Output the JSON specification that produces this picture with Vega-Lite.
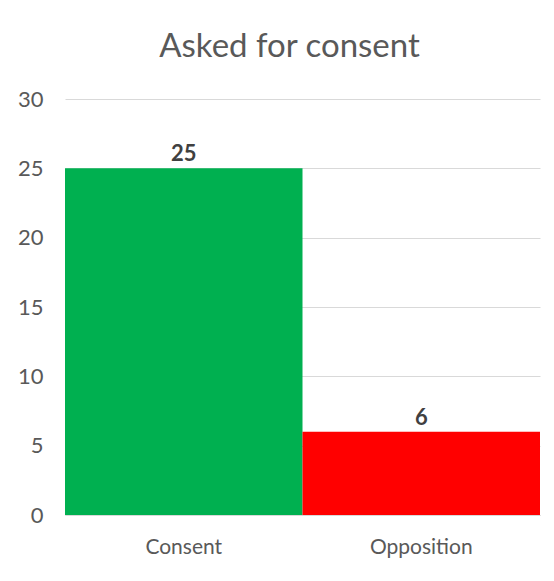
{
  "$schema": "https://vega.github.io/schema/vega-lite/v6.json",
  "autosize": {"type": "none"},
  "width": 475,
  "height": 416,
  "padding": {"left": 65, "top": 99, "right": 14, "bottom": 66},
  "background": "white",
  "title": {
    "text": "Asked for consent",
    "font": "Lato",
    "fontSize": 33,
    "fontWeight": "normal",
    "color": "#595959",
    "anchor": "middle",
    "frame": "group",
    "baseline": "alphabetic",
    "offset": 41,
    "dx": -13,
    "dy": 43
  },
  "data": {
    "values": [
      {"category": "Consent", "count": 25},
      {"category": "Opposition", "count": 6}
    ]
  },
  "encoding": {
    "x": {
      "field": "category",
      "type": "nominal",
      "sort": null,
      "scale": {"paddingInner": 0, "paddingOuter": 0},
      "axis": {
        "title": null,
        "labelAngle": 0,
        "labelFont": "Lato",
        "labelFontSize": 21,
        "labelColor": "#595959",
        "labelPadding": 21,
        "ticks": false,
        "domain": true,
        "domainColor": "#d9d9d9",
        "domainWidth": 1,
        "grid": false
      }
    },
    "y": {
      "field": "count",
      "type": "quantitative",
      "scale": {"domain": [0, 30], "nice": false},
      "axis": {
        "title": null,
        "values": [0, 5, 10, 15, 20, 25, 30],
        "labelFont": "Lato",
        "labelFontSize": 22,
        "labelColor": "#595959",
        "labelPadding": 22,
        "ticks": false,
        "domain": false,
        "grid": true,
        "gridColor": "#d9d9d9",
        "gridWidth": 1
      }
    }
  },
  "layer": [
    {
      "mark": {"type": "bar"},
      "encoding": {
        "color": {
          "field": "category",
          "type": "nominal",
          "scale": {"domain": ["Consent", "Opposition"], "range": ["#00B050", "#FF0000"]},
          "legend": null
        }
      }
    },
    {
      "mark": {
        "type": "text",
        "font": "Lato",
        "fontSize": 22,
        "fontWeight": "bold",
        "color": "#404040",
        "baseline": "alphabetic",
        "dy": -7
      },
      "encoding": {
        "text": {"field": "count", "type": "quantitative"}
      }
    }
  ],
  "config": {
    "view": {"stroke": null}
  }
}
